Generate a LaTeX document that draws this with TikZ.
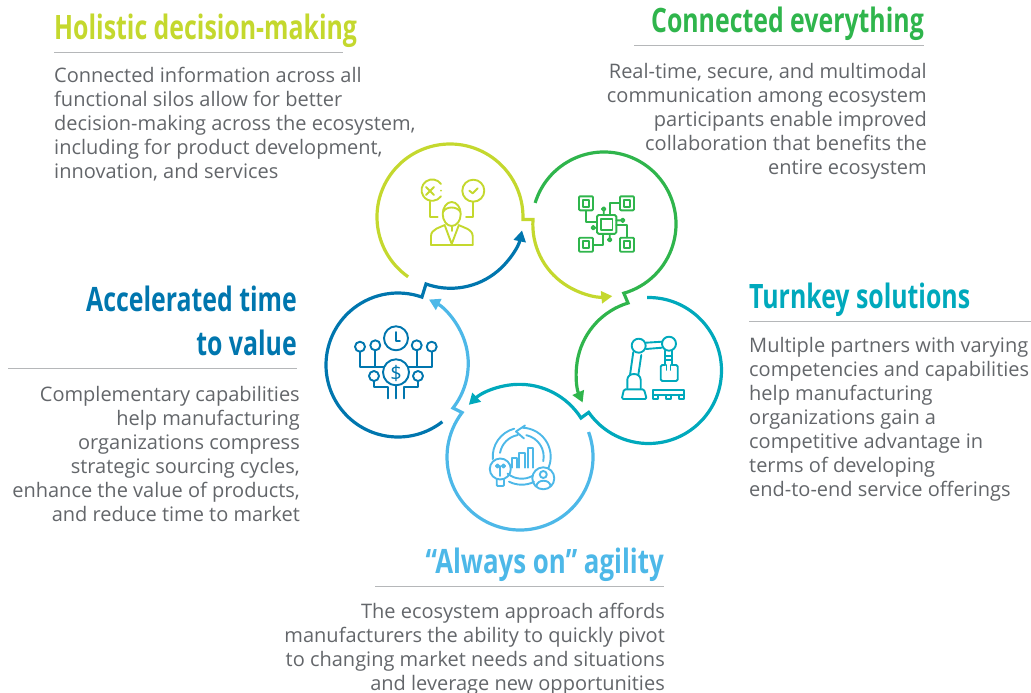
\documentclass[tikz,border=0pt]{standalone}
\usepackage{fontspec}
\setmainfont{Open Sans}
\newfontfamily\headfont[FakeStretch=0.74]{Open Sans}
\usetikzlibrary{arrows.meta}
\definecolor{limeclr}{HTML}{C4D82E}
\definecolor{greenclr}{HTML}{2FB54C}
\definecolor{tealclr}{HTML}{00A9BC}
\definecolor{skyclr}{HTML}{4DB8E8}
\definecolor{blueclr}{HTML}{0076AE}
\definecolor{bodyclr}{HTML}{63666A}
\definecolor{ruleclr}{HTML}{B5B7B9}
\tikzset{
  heading/.style={inner sep=0pt,font=\headfont\bfseries\fontsize{33.6}{40}\selectfont},
  bodytext/.style={inner sep=0pt,text=bodyclr,font=\fontsize{20}{24}\selectfont},
  headrule/.style={draw=ruleclr,line width=0.8pt},
  ring/.style={line width=3.2pt,-{Triangle[length=11pt,width=12pt]}},
  icon/.style={line width=1.9pt,line cap=round,line join=round}
}
\begin{document}
\begin{tikzpicture}[x=1pt,y=-1pt]
  \useasboundingbox (0,0) rectangle (1031,693);
  \coordinate (c1) at (450,217);
  \coordinate (c2) at (604,224);
  \coordinate (c3) at (648.5,370.5);
  \coordinate (c4) at (520,457);
  \coordinate (c5) at (398,365);

  % headings and rules
  \node[heading,text=limeclr,anchor=base west] (h1) at (54,40) {Holistic decision-making};
  \node[heading,text=greenclr,anchor=base east] (h2) at (924,33) {Connected everything};
  \node[heading,text=tealclr,anchor=base west] (h3) at (749,308) {Turnkey solutions};
  \node[heading,text=skyclr,anchor=base east,xscale=1.04] (h4) at (664,573) {“Always on” agility};
  \node[heading,text=blueclr,anchor=base east] (h5a) at (297,311) {Accelerated time};
  \node[heading,text=blueclr,anchor=base east] (h5b) at (297,355) {to value};
  \draw[headrule] (54,52) -- (343,52);
  \draw[headrule] (634,45) -- (924,45);
  \draw[headrule] (749,321) -- (1031,321);
  \draw[headrule] (375,586) -- (664,586);
  \draw[headrule] (8,368) -- (297,368);

  % text blocks
  \node[bodytext,anchor=north west,align=left] (t1) at (54,66.8) {Connected information across all\\functional silos allow for better\\decision-making across the ecosystem,\\including for product development,\\innovation, and services};
  \node[bodytext,anchor=north east,align=right] (t2) at (927,62.8) {Real-time, secure, and multimodal\\communication among ecosystem\\participants enable improved\\collaboration that benefits the\\entire ecosystem};
  \node[bodytext,anchor=north west,align=left] (t3) at (749,337.5) {Multiple partners with varying\\competencies and capabilities\\help manufacturing\\organizations gain a\\competitive advantage in\\terms of developing\\end-to-end service offerings};
  \node[bodytext,anchor=north east,align=right] (t4) at (665,602.5) {The ecosystem approach affords\\manufacturers the ability to quickly pivot\\to changing market needs and situations\\and leverage new opportunities};
  \node[bodytext,anchor=north east,align=right] (t5) at (300,386.5) {Complementary capabilities\\help manufacturing\\organizations compress\\strategic sourcing cycles,\\enhance the value of products,\\and reduce time to market};

  % the five rings, each one runs on into the next circle
  \draw[ring,limeclr] (c1) ++(235:73pt) arc[start angle=235,end angle=-2,radius=73pt] -- (533,219.5)
    arc[start angle=176,end angle=276,radius=72pt];
  \draw[ring,greenclr] (c2) ++(163:72pt) arc[start angle=163,end angle=-74,radius=72pt] -- (628,303)
    arc[start angle=107,end angle=204,radius=73pt];
  \draw[ring,tealclr] (c3) ++(91:73pt) arc[start angle=91,end angle=-145,radius=73pt] -- (581,418)
    arc[start angle=32.6,end angle=134,radius=73pt];
  \draw[ring,skyclr] (c4) ++(20:73pt) arc[start angle=20,end angle=-217.5,radius=73pt] -- (453,408)
    arc[start angle=-38,end angle=63,radius=72pt];
  \draw[ring,blueclr] (c5) ++(-52:72pt) arc[start angle=-52,end angle=-289.4,radius=72pt] -- (426,284)
    arc[start angle=250.3,end angle=348,radius=73pt];

  % decision maker
  \begin{scope}[icon,limeclr]
    \draw (441,184) arc[start angle=35,end angle=325,radius=10.7pt];
    \fill (441,190.7) circle[radius=1pt];
    \draw (426,187) -- (434,195) (434,187) -- (426,195);
    \draw (473.3,190.7) circle[radius=11pt];
    \draw (469.3,190.7) -- (472.7,193.3) -- (477.7,188.3);
    \draw (430,201.7) -- (430,216.7) -- (437.7,216.7);
    \draw (473.3,201.7) -- (473.3,216.7) -- (466,216.7);
    \draw (451.7,214) ellipse[x radius=9pt,y radius=12pt];
    \draw (443,212) .. controls (446,206) and (457,206) .. (460.5,212);
    \draw (431,245) -- (431,236) .. controls (431,229) and (441,227) .. (445,225);
    \draw (472.7,245) -- (472.7,236) .. controls (472.7,229) and (462,227) .. (458.5,225);
    \draw (431,245) -- (472.7,245);
    \draw (445,226) -- (451.7,244) -- (458.5,226);
    \draw (451.7,227) -- (451.7,231);
  \end{scope}

  % chip
  \begin{scope}[icon,greenclr]
    \foreach \px/\py in {586/203.3,627/203.3,586/244.7,627/244.7} {
      \draw[rounded corners=1pt] (\px-7,\py-7) rectangle (\px+7,\py+7);
      \draw (\px-3.3,\py-3.3) rectangle (\px+3.3,\py+3.3);
    }
    \draw[rounded corners=1.5pt] (597,215) rectangle (616.3,233.8);
    \draw (601,218.8) rectangle (612.5,230);
    \draw (586,210.7) -- (586,222.3) -- (597,222.3);
    \draw (620,203.3) -- (610,203.3) -- (610,215);
    \draw (593.3,244.7) -- (603.3,244.7) -- (603.3,234);
    \draw (626.7,237.3) -- (626.7,225) -- (616.3,225);
    \draw (603.7,209) circle[radius=1.8pt] (603.7,211) -- (603.7,215);
    \draw (622.7,220.3) circle[radius=1.8pt] (620.7,220.3) -- (616.3,220.3);
    \draw (593.3,227.7) circle[radius=1.8pt] (595.3,227.7) -- (597,227.7);
    \draw (609.7,239.7) circle[radius=1.8pt] (609.7,237.7) -- (609.7,234);
  \end{scope}

  % robot arm
  \begin{scope}[icon,tealclr]
    \draw (638.7,345.7) circle[radius=7pt];
    \draw (669,343.7) circle[radius=7pt];
    \draw (646,342.7) -- (662,341.7) (646,349) -- (662,347.7);
    \draw (633.3,352) -- (630,375) (641.3,355) -- (638.3,375);
    \draw (627.3,388.3) -- (627.3,380) .. controls (627.3,372) and (640.7,372) .. (640.7,380) -- (640.7,388.3);
    \draw[rounded corners=1.5pt] (624,389.3) -- (644,389.3) -- (646.7,399) -- (621.7,399) -- cycle;
    \draw (665,350.5) -- (665,365) (671.7,350.5) -- (671.7,365);
    \draw (665,356) -- (671.7,356) (665,360) -- (671.7,360);
    \draw[rounded corners=1.5pt] (665,365) -- (660.7,365) -- (660.7,381) -- (677.7,381) -- (677.7,365) -- (671.7,365);
    \draw (666.5,365) -- (666.5,370) (670.5,365) -- (670.5,370);
    \draw (653.3,390) rectangle (684.3,395);
    \draw (653.3,395) rectangle (658.3,399);
    \draw (666,395) rectangle (671,399);
    \draw (679.3,395) rectangle (684.3,399);
  \end{scope}

  % agility cycle
  \begin{scope}[icon,skyclr]
    \draw (521.7,456.7) ++(88:29pt) arc[start angle=88,end angle=-22,radius=29pt];
    \draw (521.7,456.7) ++(78:22pt) arc[start angle=78,end angle=-12,radius=22pt];
    \draw (521.7,456.7) ++(105:29pt) arc[start angle=105,end angle=185,radius=29pt];
    \draw (521.7,456.7) ++(100:22pt) arc[start angle=100,end angle=170,radius=22pt];
    \draw (521.7,456.7) ++(243:28pt) arc[start angle=243,end angle=296,radius=28pt];
    \draw (521.7,456.7) ++(230:22pt) arc[start angle=230,end angle=300,radius=22pt];
    \draw (525,425.5) -- (516,431.5) -- (524,438.5);
    \draw (511.7,467.7) -- (511.7,457.7) -- (516.7,457.7) -- (516.7,467.7);
    \draw (519.3,467.7) -- (519.3,453.3) -- (525,453.3) -- (525,467.7);
    \draw (528,467.7) -- (528,448.3) -- (533.3,448.3) -- (533.3,467.7);
    \draw (500.3,469) circle[radius=10.5pt];
    \draw[rounded corners=1pt] (496.7,479.5) -- (496.7,486) -- (504,486) -- (504,479.5);
    \draw (497.5,466) circle[radius=1.6pt] (503.5,466) circle[radius=1.6pt];
    \draw (500.3,466) -- (500.3,476);
    \draw (543.3,478.3) circle[radius=11pt];
    \draw (543.3,474.5) circle[radius=3.5pt];
    \draw (536.5,486) .. controls (537,479) and (550,479) .. (550.5,486);
  \end{scope}

  % time and value
  \begin{scope}[icon,blueclr]
    \draw (396,338.3) circle[radius=12pt];
    \draw (396,332) -- (396,341) -- (400,341);
    \draw (396,372.3) circle[radius=13pt];
    \node[text=blueclr,inner sep=0pt,font=\fontsize{20}{20}\selectfont] (dollar) at (396,373) {\$};
    \foreach \px/\py in {360/346.7,375.3/345.3,416.7/345.3,431.7/346.7,374/376,418/376}
      \draw (\px,\py) circle[radius=5pt];
    \draw (360,351.7) -- (360,366.7) -- (384,366.7);
    \draw (375.3,350.3) -- (375.3,366.7);
    \draw (431.7,351.7) -- (431.7,366.7) -- (408,366.7);
    \draw (416.7,350.3) -- (416.7,366.7);
    \draw (374,381) -- (374,387.3) -- (388.3,387.3) -- (388.3,398.3);
    \draw (396,385.3) -- (396,398.3);
    \draw (418,381) -- (418,387.3) -- (404,387.3) -- (404,398.3);
  \end{scope}
\end{tikzpicture}
\end{document}
